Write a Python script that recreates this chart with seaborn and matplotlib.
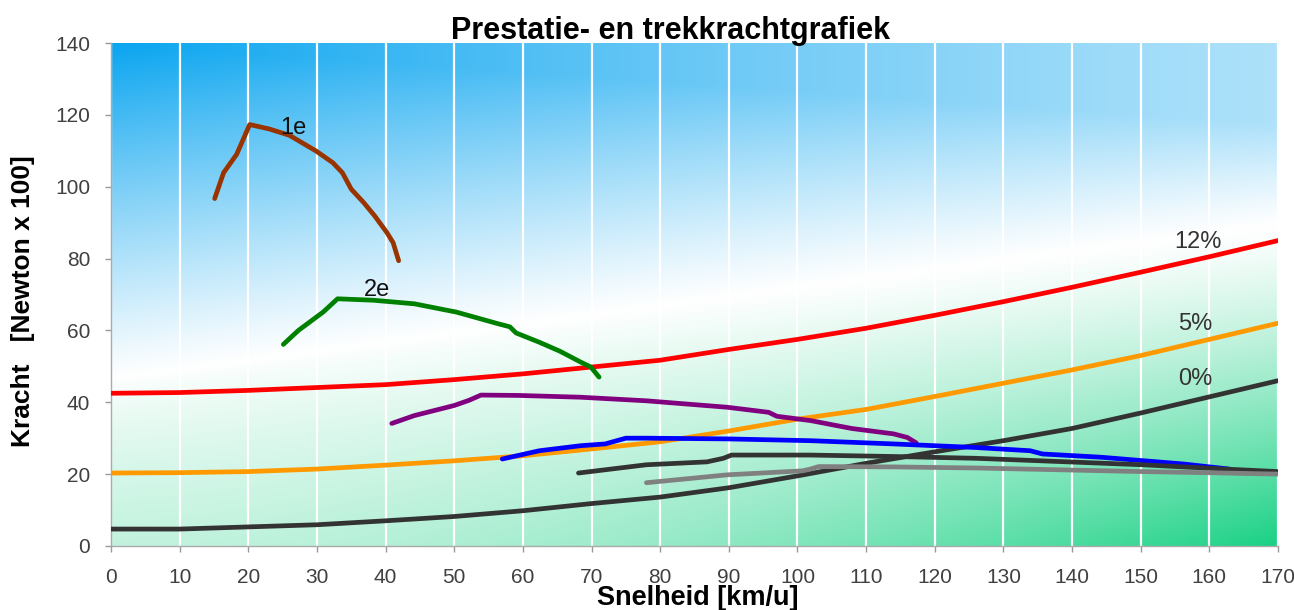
import numpy as np
import matplotlib
matplotlib.use("Agg")
import matplotlib.pyplot as plt
import seaborn as sns
from matplotlib.colors import to_rgb

# ---------------- data ----------------
speed_res = [0, 10, 20, 30, 40, 50, 60, 70, 80, 90, 100, 110, 120, 130, 140, 150, 160, 170]
res_12 = [42.5, 42.7, 43.3, 44.1, 44.9, 46.3, 47.9, 49.8, 51.7, 54.7, 57.5, 60.6, 64.2, 68.0, 72.0, 76.2, 80.5, 85.0]
res_5 = [20.3, 20.4, 20.7, 21.4, 22.5, 23.7, 25.1, 27.0, 29.0, 32.0, 35.3, 38.0, 41.6, 45.3, 49.0, 53.0, 57.5, 62.0]
res_0 = [4.7, 4.7, 5.3, 5.9, 7.0, 8.2, 9.8, 11.8, 13.6, 16.2, 19.5, 23.0, 26.2, 29.3, 32.7, 37.0, 41.5, 46.0]

g1_v = [15.1, 16.4, 18.3, 20.2, 23.0, 26.0, 29.9, 32.3, 33.7, 35.0, 36.8, 38.4, 40.2, 41.1, 41.9]
g1_f = [96.7, 103.9, 109.0, 117.3, 116.1, 114.3, 109.9, 106.7, 103.9, 99.3, 95.6, 91.9, 87.2, 84.4, 79.4]

g2_v = [25.1, 27.3, 30.9, 33.0, 38.2, 44.2, 50.3, 56.3, 58.1, 59.0, 62.4, 65.4, 68.4, 69.9, 71.1]
g2_f = [56.1, 60.0, 65.1, 68.8, 68.4, 67.4, 65.1, 61.9, 61.0, 59.3, 56.7, 54.2, 51.2, 49.8, 47.0]

g3_v = [40.9, 44.2, 50.0, 52.1, 53.9, 59.3, 68.4, 78.0, 89.8, 95.8, 97.0, 101.9, 107.9, 114.0, 116.0, 117.3]
g3_f = [34.1, 36.3, 39.1, 40.5, 42.0, 41.9, 41.4, 40.4, 38.6, 37.2, 36.1, 34.9, 32.7, 31.2, 30.2, 28.7]

g4_v = [57.0, 62.4, 68.4, 72.0, 75.0, 78.0, 89.8, 101.9, 114.0, 126.0, 133.9, 135.7, 144.2, 156.3, 162.9, 164.1]
g4_f = [24.2, 26.5, 27.9, 28.4, 30.0, 30.0, 29.8, 29.3, 28.4, 27.4, 26.5, 25.6, 24.7, 22.8, 21.4, 20.3]

g5_v = [68.1, 78.0, 86.8, 89.2, 90.4, 101.9, 114.0, 126.0, 138.1, 150.2, 162.3, 170.0]
g5_f = [20.3, 22.6, 23.4, 24.4, 25.3, 25.3, 24.9, 24.4, 23.5, 22.6, 21.4, 20.7]

g6_v = [78.0, 89.8, 100.7, 101.9, 103.1, 114.0, 126.0, 138.1, 150.2, 162.3, 170.0]
g6_f = [17.6, 19.8, 20.9, 21.4, 22.1, 22.0, 21.7, 21.2, 20.7, 20.3, 20.0]

x_ticks = list(range(0, 171, 10))
y_ticks = list(range(0, 141, 20))

title = "Prestatie- en trekkrachtgrafiek"
xlabel = "Snelheid [km/u]"
ylabel = "Kracht   [Newton x 100]"

# ---------------- style ----------------
sns.set_style("white")
plt.rcParams["font.family"] = ["Liberation Sans", "DejaVu Sans"]
plt.rcParams["text.color"] = "black"

fig = plt.figure(figsize=(12.94, 6.10), dpi=100)
ax = fig.add_axes([0.0858, 0.105, 0.9018, 0.8245])

# background gradient (blue top-left, white diagonal band, green bottom-right)
nx, ny = 400, 300
u = np.linspace(0, 1, nx)[None, :]
w = np.linspace(0, 1, ny)[:, None]
wc = 0.33 + 0.31 * u
d = w - wc
L = 0.67 - 0.47 * u
A = 1.0 - 0.88 * u + 0.21 * u ** 2
tb = A * np.clip(d / L, 0, 1) ** 1.1
B = 0.24 + 0.1 * u + 0.56 * u ** 2
pg = 0.7 + 0.5 * u
tg = B * np.clip(-d / wc, 0, 1) ** pg
blue = np.array(to_rgb("#0aa5f0"))
green = np.array(to_rgb("#00cc77"))
white = np.ones(3)
img = white + tb[..., None] * (blue - white) + tg[..., None] * (green - white)
img = np.clip(img, 0, 1)
ax.imshow(img, extent=(0, 170, 0, 140), origin="lower", aspect="auto", zorder=0,
          interpolation="bilinear")

lw = 3.4
series = [
    (speed_res, res_12, "#ff0000"),
    (speed_res, res_5, "#ff9900"),
    (speed_res, res_0, "#333333"),
    (g1_v, g1_f, "#993300"),
    (g2_v, g2_f, "#008000"),
    (g3_v, g3_f, "#800080"),
    (g4_v, g4_f, "#0000ff"),
    (g5_v, g5_f, "#333333"),
    (g6_v, g6_f, "#808080"),
]
for xs, ys, c in series:
    sns.lineplot(x=xs, y=ys, color=c, lw=lw, ax=ax, sort=False, estimator=None,
                 solid_capstyle="round", zorder=3)

# curve labels
lab_kw = dict(fontsize=17, ha="center", va="center", zorder=4)
ax.text(26.6, 116.4, "1e", color="#111111", **lab_kw)
ax.text(38.7, 71.3, "2e", color="#111111", **lab_kw)
ax.text(158.3, 84.5, "12%", color="#333333", **lab_kw)
ax.text(158.0, 61.8, "5%", color="#333333", **lab_kw)
ax.text(158.0, 46.5, "0%", color="#333333", **lab_kw)

ax.set_xlim(0, 170)
ax.set_ylim(0, 140)
ax.set_xticks(x_ticks)
ax.set_yticks(y_ticks)
ax.set_xticklabels([str(t) for t in x_ticks])
ax.set_yticklabels([str(t) for t in y_ticks])
ax.set_axisbelow("line")
ax.xaxis.grid(True, color="white", lw=1.6, zorder=1)
ax.yaxis.grid(False)
ax.tick_params(axis="both", which="major", labelsize=15, labelcolor="#404040",
               color="#999999", length=4, width=1, direction="out")
ax.tick_params(axis="x", pad=12, bottom=True)
ax.tick_params(axis="y", pad=11, left=True)
for s in ["top", "right"]:
    ax.spines[s].set_visible(False)
for s in ["left", "bottom"]:
    ax.spines[s].set_color("#aaaaaa")
    ax.spines[s].set_linewidth(1.0)
ax.set_xlabel("")
ax.set_ylabel("")

fig.text(0.518, 0.950, title, fontsize=22, fontweight="bold", color="black",
         ha="center", va="center")
fig.text(0.539, 0.019, xlabel, fontsize=19.5, fontweight="bold", color="black",
         ha="center", va="center")
fig.text(0.018, 0.507, ylabel, fontsize=19, fontweight="bold", color="black",
         ha="center", va="center", rotation=90)

fig.savefig("out.png", dpi=100)
